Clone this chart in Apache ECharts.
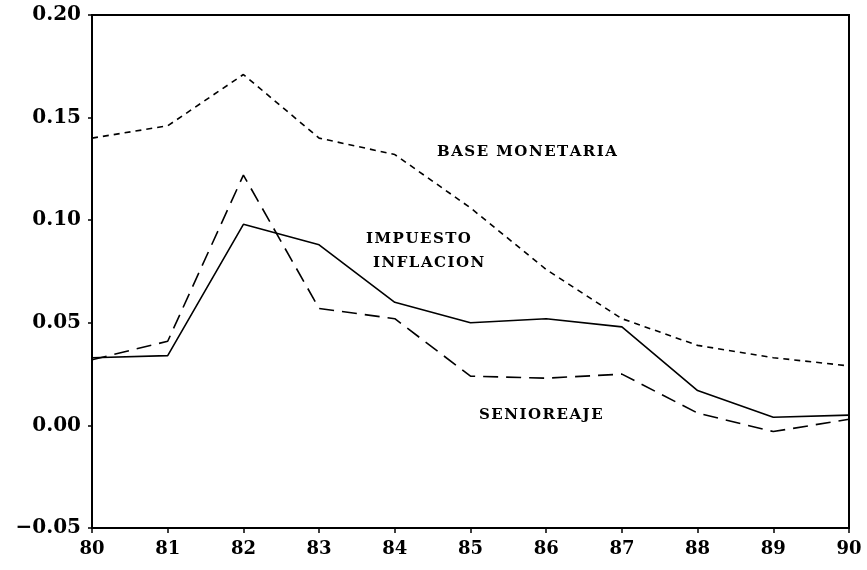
<!DOCTYPE html>
<html>
<head>
<meta charset="utf-8">
<script src="https://cdn.jsdelivr.net/npm/echarts@6/dist/echarts.min.js"></script>
<style>
  html, body { margin: 0; padding: 0; background: #fff; overflow: hidden; }
  #chart { width: 867px; height: 570px; }
</style>
</head>
<body>
<div id="chart"></div>
<script>
// años (80 = 1980)
const years = ['80', '81', '82', '83', '84', '85', '86', '87', '88', '89', '90']
const baseMonetaria = [0.140, 0.146, 0.171, 0.140, 0.132, 0.106, 0.076, 0.052, 0.039, 0.033, 0.029]
const impuestoInflacion = [0.033, 0.034, 0.098, 0.088, 0.060, 0.050, 0.052, 0.048, 0.017, 0.004, 0.005]
const senioreaje = [0.032, 0.041, 0.122, 0.057, 0.052, 0.024, 0.023, 0.025, 0.006, -0.003, 0.003]
const yTicks = [-0.05, 0.00, 0.05, 0.10, 0.15, 0.20]

const font = 'DejaVu Serif'
const chart = echarts.init(document.getElementById('chart'))

const lineSeries = (name, data, dash, width) => ({
  name,
  type: 'line',
  data,
  symbol: 'none',
  animation: false,
  lineStyle: { color: '#000', width, type: dash }
})

// letras separadas, como en el original
const spaced = s => s.split('').join('\u200A')

const label = (text, x, y) => ({
  type: 'text',
  left: x,
  top: y,
  style: { text: spaced(text), fill: '#000', font: 'bold 15px "' + font + '"' }
})

chart.setOption({
  backgroundColor: '#fff',
  grid: {
    left: 92,
    right: 18,
    top: 15,
    bottom: 42,
    show: true,
    borderColor: '#000',
    borderWidth: 2
  },
  xAxis: {
    type: 'category',
    data: years,
    boundaryGap: false,
    axisLine: { onZero: false, lineStyle: { color: '#000', width: 2 } },
    axisTick: { length: 5, lineStyle: { color: '#000', width: 1.5 } },
    axisLabel: { color: '#000', fontFamily: font, fontWeight: 'bold', fontSize: 18, margin: 12 },
    splitLine: { show: false }
  },
  yAxis: {
    type: 'value',
    min: yTicks[0],
    max: yTicks[yTicks.length - 1],
    interval: 0.05,
    axisLine: { show: true, lineStyle: { color: '#000', width: 2 } },
    axisTick: { show: true, length: 4, lineStyle: { color: '#000', width: 1.5 } },
    axisLabel: {
      color: '#000', fontFamily: font, fontWeight: 'bold', fontSize: 20, margin: 11,
      formatter: v => (v < 0 ? '\u2212' : '') + Math.abs(v).toFixed(2)
    },
    splitLine: { show: false }
  },
  series: [
    lineSeries('BASE MONETARIA', baseMonetaria, [6, 5], 1.6),
    lineSeries('IMPUESTO INFLACION', impuestoInflacion, 'solid', 1.6),
    lineSeries('SENIOREAJE', senioreaje, [15, 8], 1.6)
  ],
  graphic: [
    label('BASE MONETARIA', 437, 145),
    label('IMPUESTO', 366, 232),
    label('INFLACION', 373, 256),
    label('SENIOREAJE', 479, 408)
  ]
})
</script>
</body>
</html>
